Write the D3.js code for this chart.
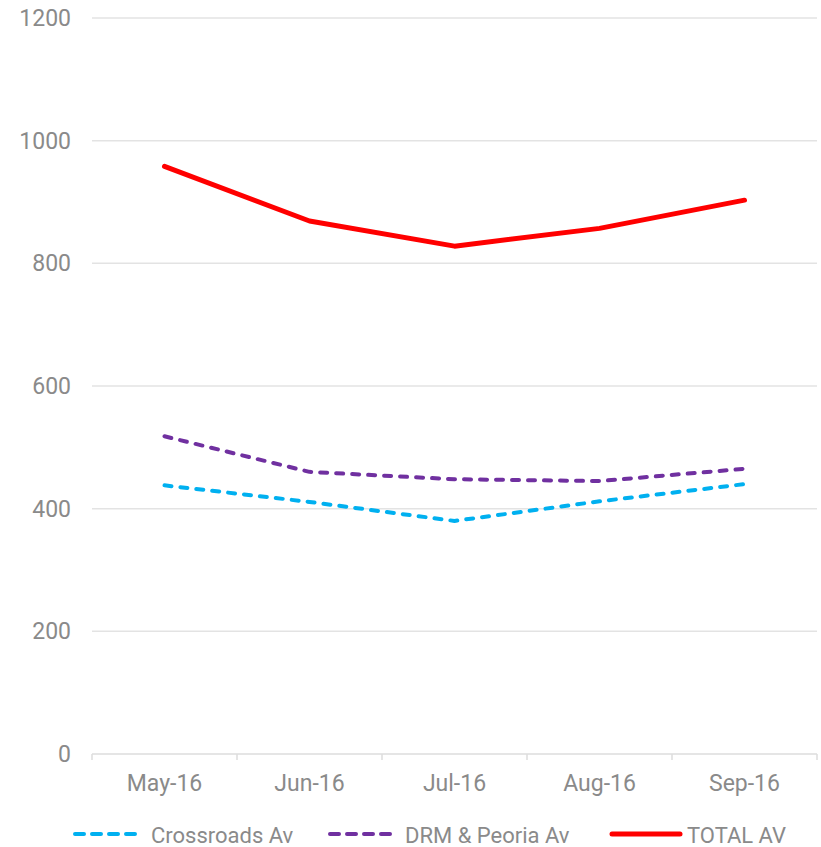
<!DOCTYPE html>
<html><head><meta charset="utf-8">
<script src="https://cdn.jsdelivr.net/npm/d3@7"></script>
<style>body{margin:0;background:#fff}text{font-family:"Roboto",sans-serif;fill:#8a8a8a}</style>
</head><body><svg id="c" width="821" height="847"></svg>
<script>
const categories = ["May-16","Jun-16","Jul-16","Aug-16","Sep-16"];
const crossroads = [438, 411, 380, 412, 440];
const drmPeoria = [518, 460, 448, 445, 465];
const totalAv = [958, 869, 828, 857, 903];
const yTicks = [0,200,400,600,800,1000,1200];
const seriesNames = ["Crossroads Av","DRM & Peoria Av","TOTAL AV"];
const colors = ["#00b0f0","#7030a0","#ff0000"];

const svg = d3.select("#c");
const x = d3.scaleBand().domain(categories).range([92,817]);
const y = d3.scaleLinear().domain([0,1200]).range([754,18]);

svg.append("g").selectAll("line").data(yTicks.slice(1)).join("line")
  .attr("x1",92).attr("x2",817).attr("y1",d=>y(d)).attr("y2",d=>y(d))
  .attr("stroke","#e3e3e3").attr("stroke-width",1.5);
svg.append("g").selectAll("text").data(yTicks).join("text")
  .attr("x",71).attr("y",d=>y(d)+8).attr("text-anchor","end")
  .style("font-size","23px").text(d=>d);

svg.append("line").attr("x1",92).attr("x2",817).attr("y1",754).attr("y2",754).attr("stroke","#dcdcdc").attr("stroke-width",1.5);
const bounds = categories.map(c=>x(c)).concat([x.range()[1]]);
svg.append("g").selectAll("line").data(bounds).join("line")
  .attr("x1",d=>d).attr("x2",d=>d).attr("y1",754).attr("y2",760)
  .attr("stroke","#dcdcdc").attr("stroke-width",1.5);
svg.append("g").selectAll("text").data(categories).join("text")
  .attr("x",d=>x(d)+x.bandwidth()/2).attr("y",791).attr("text-anchor","middle")
  .style("font-size","23px").text(d=>d);

const line = d3.line().x((d,i)=>x(categories[i])+x.bandwidth()/2).y(d=>y(d));
const data = [crossroads, drmPeoria, totalAv];
data.forEach((s,i)=>{
  svg.append("path").datum(s).attr("d",line).attr("fill","none")
    .attr("stroke",colors[i]).attr("stroke-width", i===2?5:4)
    .attr("stroke-linecap", "round").attr("stroke-linejoin","round")
    .attr("stroke-dasharray", i===2?null:"7,9");
});

// legend
const legLine = [[75,142],[330,398],[612,680]];
const legText = [151, 405, 687];
seriesNames.forEach((n,i)=>{
  const g = svg.append("g");
  g.append("line").attr("x1",legLine[i][0]).attr("x2",legLine[i][1]).attr("y1",834).attr("y2",834)
    .attr("stroke",colors[i]).attr("stroke-width",i===2?5:4).attr("stroke-linecap","round")
    .attr("stroke-dasharray", i===2?null:"9,8");
  g.append("text").attr("x",legText[i]).attr("y",843).style("font-size","22px").text(n);
});
</script></body></html>
